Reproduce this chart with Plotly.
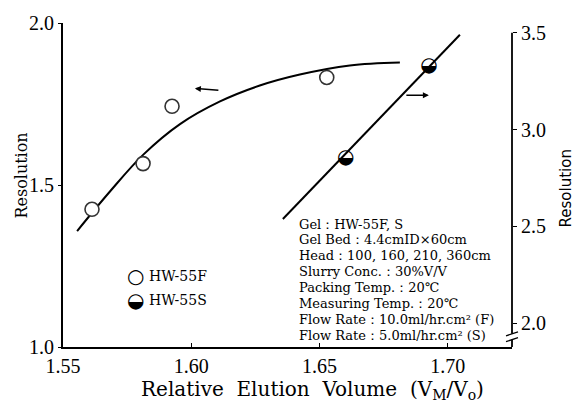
import plotly.graph_objects as go

# HW-55F measurements (left axis)
f_volume = [1.5613, 1.5812, 1.5925, 1.6528]
f_resolution = [1.425, 1.566, 1.743, 1.832]

# HW-55S measurements (right axis)
s_volume = [1.6602, 1.6926]
s_resolution = [2.855, 3.331]

# hand-drawn trend curve through the HW-55F data
f_curve_x = [1.5555, 1.5683, 1.5812, 1.5956, 1.6112, 1.6267, 1.6423, 1.6618, 1.6813]
f_curve_y = [1.358, 1.480, 1.593, 1.688, 1.758, 1.807, 1.841, 1.869, 1.878]

# straight trend line for HW-55S
s_line_x = [1.6357, 1.7047]
s_line_y = [2.538, 3.490]

x_ticks = [1.55, 1.60, 1.65, 1.70]
x_ticktext = ["1.55", "1.60", "1.65", "1.70"]
left_ticks = [1.0, 1.5, 2.0]
left_ticktext = ["1.0", "1.5", "2.0"]
right_ticks = [2.0, 2.5, 3.0, 3.5]
right_ticktext = ["2.0", "2.5", "3.0", "3.5"]

conditions = [
    "Gel：HW-55F, S",
    "Gel Bed：4.4cmID×60cm",
    "Head：100, 160, 210, 360cm",
    "Slurry Conc.：30%V/V",
    "Packing Temp.：20℃",
    "Measuring Temp.：20℃",
    "Flow Rate：10.0ml/hr.cm² (F)",
    "Flow Rate：5.0ml/hr.cm² (S)",
]

SERIF = "DejaVu Serif"
TICKFONT = dict(family="Liberation Serif", size=20, color="black")
W, H = 577, 405
ML, MR, MT, MB = 63, 65, 20, 58
PW, PH = W - ML - MR, H - MT - MB


def px(xp):
    return (xp - ML) / PW


def py(yp):
    return (H - MB - yp) / PH


fig = go.Figure()

fig.add_trace(go.Scatter(
    x=f_curve_x, y=f_curve_y, mode="lines",
    line=dict(color="black", width=2, shape="spline", smoothing=1.0),
    showlegend=False, hoverinfo="skip"))

fig.add_trace(go.Scatter(
    x=s_line_x, y=s_line_y, mode="lines", yaxis="y2",
    line=dict(color="black", width=2),
    showlegend=False, hoverinfo="skip"))

fig.add_trace(go.Scatter(
    x=f_volume, y=f_resolution, mode="markers", name="HW-55F",
    marker=dict(symbol="circle", size=14, color="white",
                line=dict(color="#333", width=1.6)),
    showlegend=False))

fig.add_trace(go.Scatter(
    x=s_volume, y=s_resolution, mode="text", yaxis="y2", name="HW-55S",
    text=["◒"] * len(s_volume), textposition="middle center",
    textfont=dict(family="DejaVu Sans", size=20, color="black"),
    showlegend=False))

annotations = []


def label(text, xp, yp, size, family=SERIF, angle=0, xanchor="center"):
    annotations.append(dict(
        text=text, xref="paper", yref="paper", x=px(xp), y=py(yp),
        xanchor=xanchor, yanchor="middle", textangle=angle,
        showarrow=False, font=dict(family=family, size=size, color="black")))


# axis titles
label("Relative  Elution  Volume  (V<sub>M</sub>/V<sub>o</sub>)", 312, 390, 20)
label("Resolution", 22, 174, 16, angle=-90)
label("Resolution", 566, 187, 15, family="DejaVu Sans", angle=-90)

# experimental conditions
for i, line in enumerate(conditions):
    label(line, 297, 223 + i * 16, 13, xanchor="left")

# legend
for glyph, name, yp in [("○", "HW-55F", 275), ("◒", "HW-55S", 300)]:
    label(glyph, 135, yp, 20, family="DejaVu Sans")
    label(name, 147, yp, 14, xanchor="left")

# arrows pointing to each curve's axis
annotations.append(dict(
    x=1.6014, y=1.798, xref="x", yref="y", ax=25, ay=2,
    showarrow=True, arrowhead=2, arrowsize=0.8, arrowwidth=1.5,
    arrowcolor="black", text=""))
annotations.append(dict(
    x=1.6926, y=3.178, xref="x", yref="y2", ax=-24, ay=0,
    showarrow=True, arrowhead=2, arrowsize=0.8, arrowwidth=1.5,
    arrowcolor="black", text=""))

shapes = [
    # right axis line, broken near its lower end
    dict(type="line", xref="paper", yref="y2", x0=1, x1=1, y0=1.877, y1=1.915,
         line=dict(color="black", width=1.8)),
    dict(type="line", xref="paper", yref="y2", x0=1, x1=1, y0=1.945, y1=3.5,
         line=dict(color="black", width=1.8)),
    dict(type="line", xref="paper", yref="y2", xsizemode="pixel", xanchor=1,
         ysizemode="pixel", yanchor=1.915, x0=-6, x1=6, y0=-2, y1=2,
         line=dict(color="black", width=1.3)),
    dict(type="line", xref="paper", yref="y2", xsizemode="pixel", xanchor=1,
         ysizemode="pixel", yanchor=1.945, x0=-6, x1=6, y0=-2, y1=2,
         line=dict(color="black", width=1.3)),
]

fig.update_layout(
    width=W, height=H,
    margin=dict(l=ML, r=MR, t=MT, b=MB),
    paper_bgcolor="white", plot_bgcolor="white",
    showlegend=False,
    xaxis=dict(range=[1.55, 1.725], tickvals=x_ticks, ticktext=x_ticktext,
               showline=True, linecolor="black", linewidth=1.8,
               ticks="inside", ticklen=4, tickcolor="black",
               showgrid=False, zeroline=False, tickfont=TICKFONT),
    yaxis=dict(range=[1.0, 2.0], tickvals=left_ticks, ticktext=left_ticktext,
               showline=True, linecolor="black", linewidth=1.8,
               ticks="outside", ticklen=3, tickcolor="black",
               showgrid=False, zeroline=False, tickfont=TICKFONT),
    yaxis2=dict(range=[1.877, 3.551], overlaying="y", side="right",
                tickvals=right_ticks, ticktext=right_ticktext,
                showline=False, ticks="outside", ticklen=4, tickcolor="black",
                showgrid=False, zeroline=False, tickfont=TICKFONT),
    annotations=annotations,
    shapes=shapes,
)

fig.write_html("out.html")
